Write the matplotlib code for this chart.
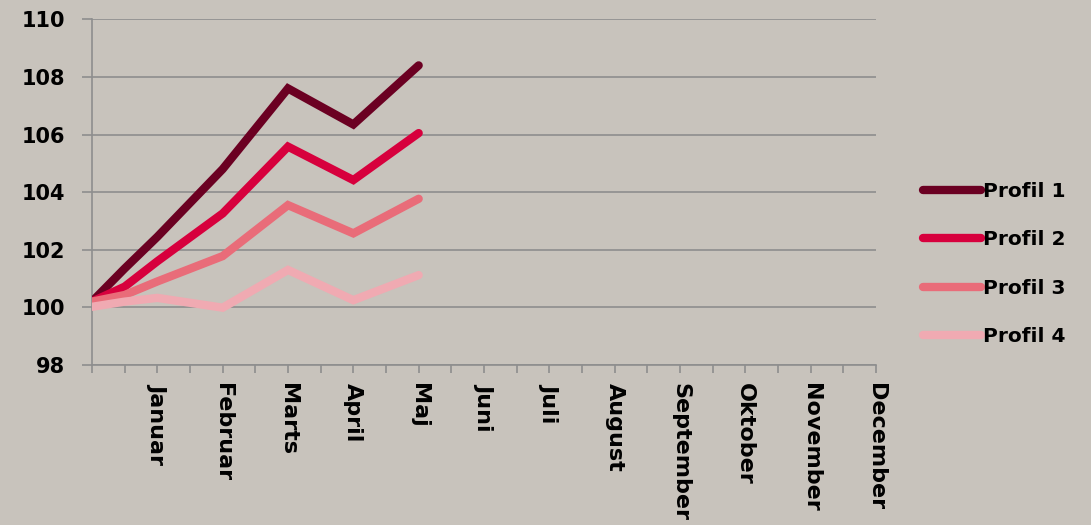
import matplotlib
matplotlib.use("Agg")
import matplotlib.pyplot as plt
from matplotlib.transforms import ScaledTranslation

# x positions on a half-month grid (0 = start, 2 = Januar, 4 = Februar, ...)
x_pos = [0, 1, 2, 4, 6, 8, 10]
profil_1 = [100.2, 101.35, 102.45, 104.8, 107.6, 106.35, 108.4]
profil_2 = [100.2, 100.72, 101.6, 103.26, 105.58, 104.42, 106.05]
profil_3 = [100.2, 100.43, 100.9, 101.78, 103.55, 102.57, 103.77]
profil_4 = [100.02, 100.2, 100.33, 99.99, 101.3, 100.25, 101.12]
series_names = ["Profil 1", "Profil 2", "Profil 3", "Profil 4"]
months = ["Januar", "Februar", "Marts", "April", "Maj", "Juni", "Juli",
          "August", "September", "Oktober", "November", "December"]
y_ticks = [98, 100, 102, 104, 106, 108, 110]

colors = ["#6B0022", "#D7003D", "#E96C79", "#F0AAB2"]
bg = "#C8C3BC"
grid_c = "#8E8E8E"

plt.rcParams['font.family'] = ['DejaVu Sans']
fig = plt.figure(figsize=(10.91, 5.25), dpi=100, facecolor=bg)
ax = fig.add_axes([92/1091, 1-365/525, (876-92)/1091, (365-19.3)/525])
ax.set_facecolor(bg)

for vals, name, c in zip([profil_1, profil_2, profil_3, profil_4], series_names, colors):
    ax.plot(x_pos, vals, color=c, lw=6, solid_capstyle='round',
            solid_joinstyle='miter', label=name, zorder=3)

ax.set_xlim(0, 24)
ax.set_ylim(98, 110)
ax.set_yticks(y_ticks)
ax.set_yticklabels([str(v) for v in y_ticks], fontsize=15, fontweight='bold')
ax.yaxis.grid(True, color=grid_c, lw=1.2)
ax.set_axisbelow(True)

ax.set_xticks(list(range(0, 25)))
labels = []
for i in range(25):
    if i >= 2 and i % 2 == 0:
        labels.append(months[i // 2 - 1])
    else:
        labels.append("")
ax.set_xticklabels(labels, rotation=270, fontsize=16, fontweight='bold',
                   va='top', ha='center')
offset = ScaledTranslation(-4/100, 0, fig.dpi_scale_trans)
for lab in ax.get_xticklabels():
    lab.set_transform(lab.get_transform() + offset)
ax.tick_params(axis='x', length=6, color=grid_c, width=1.2, pad=7)
ax.tick_params(axis='y', length=7.2, color=grid_c, width=1.2, pad=12)

for s in ['top', 'right']:
    ax.spines[s].set_visible(False)
for s in ['left', 'bottom']:
    ax.spines[s].set_color(grid_c)
    ax.spines[s].set_linewidth(1.2)

leg = fig.legend(loc='upper left', bbox_to_anchor=(913/1091, 1-172/525),
                 frameon=False, fontsize=14.5, handlelength=2.9,
                 handletextpad=0.1, labelspacing=1.46, borderpad=0)
for t in leg.get_texts():
    t.set_fontweight('bold')

fig.savefig("out.png", dpi=100, facecolor=bg)
